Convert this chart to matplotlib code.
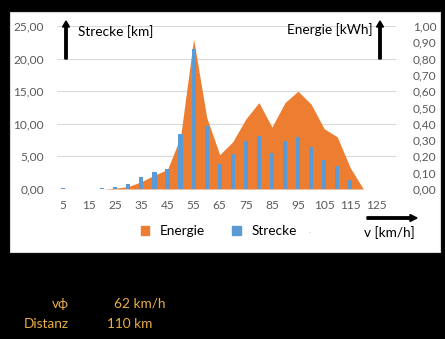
import matplotlib
matplotlib.use('Agg')
import matplotlib.pyplot as plt
from matplotlib.patches import Rectangle, Patch, FancyArrow
import numpy as np

plt.rcParams['font.family'] = ['Lato', 'DejaVu Sans']

# Geschwindigkeitsklassen in km/h
speeds = [5, 10, 15, 20, 25, 30, 35, 40, 45, 50, 55, 60, 65,
          70, 75, 80, 85, 90, 95, 100, 105, 110, 115, 120, 125, 130]
# gefahrene Strecke je Klasse [km]
strecke = [0.1, 0, 0, 0.1, 0.3, 0.8, 1.8, 2.6, 3.1, 8.4, 21.4, 9.7, 3.9,
           5.3, 7.3, 8.2, 5.5, 7.3, 7.9, 6.4, 4.4, 3.6, 1.4, 0, 0, 0]
# Energieverbrauch je Klasse [kWh]
energie = [0, 0, 0, 0, 0.005, 0.015, 0.045, 0.085, 0.12, 0.32, 0.92, 0.44, 0.21,
           0.29, 0.43, 0.53, 0.38, 0.53, 0.60, 0.52, 0.37, 0.32, 0.13, 0, 0, 0]
left_ticks = [0, 5, 10, 15, 20, 25]
right_ticks = [0, 0.1, 0.2, 0.3, 0.4, 0.5, 0.6, 0.7, 0.8, 0.9, 1.0]

orange = '#ED7D31'
blue = '#5B9BD5'
grey = '#595959'
gold = '#E9AE45'

W, H = 445, 339
fig = plt.figure(figsize=(W / 100, H / 100), dpi=100, facecolor='black')

# weisser Diagrammbereich
fig.patches.append(Rectangle((10 / W, 1 - 252 / H), 430 / W, 240 / H,
                             transform=fig.transFigure, facecolor='white',
                             edgecolor='#D9D9D9', lw=0.8, zorder=-5))

ax = fig.add_axes([56.5 / W, 1 - 189 / H, 339.5 / W, 163 / H])
ax2 = ax.twinx()
ax.set_zorder(1)
ax2.set_zorder(0)
ax.set_facecolor('none')
ax2.set_facecolor('none')

x = np.arange(len(speeds))
ax.set_xlim(-0.5, len(speeds) - 0.5)
ax.set_ylim(0, 25)
ax2.set_ylim(0, 1)

# Gitterlinien der linken Achse, von der Energieflaeche verdeckt
for v in left_ticks:
    ax2.axhline(v / left_ticks[-1], color='#D9D9D9', lw=0.8, zorder=0)

# Energie als Flaeche (rechte Achse), Strecke als Saeulen (linke Achse)
ax2.fill_between(x, energie, 0, color=orange, lw=0, zorder=1)
ax.bar(x, strecke, width=0.32, color=blue, zorder=3)

ax.set_yticks(left_ticks)
ax.set_yticklabels([f'{v:.2f}'.replace('.', ',') for v in left_ticks])
ax2.set_yticks(right_ticks)
ax2.set_yticklabels([f'{v:.2f}'.replace('.', ',') for v in right_ticks])
ax.set_xticks(x[::2])
ax.set_xticklabels([str(s) for s in speeds[::2]])

for a in (ax, ax2):
    for s in a.spines.values():
        s.set_visible(False)
    a.tick_params(length=0, colors=grey, labelsize=8.6)
ax.tick_params(axis='y', pad=9)
ax2.tick_params(axis='y', pad=12)
ax.tick_params(axis='x', pad=8)

# Achsentitel mit Pfeilen
fig.text(78 / W, 1 - 32 / H, 'Strecke [km]', fontsize=9.8, color='black', va='center')
fig.text(373 / W, 1 - 30 / H, 'Energie [kWh]', fontsize=9.8, color='black',
         va='center', ha='right')
fig.text(415 / W, 1 - 233 / H, 'v [km/h]', fontsize=9.8, color='black',
         va='center', ha='right')
for (x0, y0, x1, y1) in [(66, 59, 66, 21), (380, 59, 380, 21)]:
    fig.patches.append(FancyArrow(
        x0 / W, 1 - y0 / H, 0, (y0 - y1) / H, width=2.4 / W,
        head_width=7 / W, head_length=6 / H, length_includes_head=True,
        color='black', transform=fig.transFigure))
fig.patches.append(FancyArrow(
    367 / W, 1 - 218 / H, 50 / W, 0, width=2.4 / H,
    head_width=7 / H, head_length=7 / W, length_includes_head=True,
    color='black', transform=fig.transFigure))

# Legende
handles = [Patch(color=orange, label='Energie'), Patch(color=blue, label='Strecke')]
fig.legend(handles=handles, loc='center', bbox_to_anchor=(219 / W, 1 - 231 / H),
           ncol=2, frameon=False, fontsize=9.8, handlelength=0.6, handleheight=0.6,
           columnspacing=2.0, handletextpad=0.8)
fig.text(310 / W, 1 - 233 / H, '.', fontsize=6, color='#BFBFBF', ha='center')

# Kennzahlen unter dem Diagramm
fig.text(69 / W, 1 - 304 / H, 'v\u03d5', fontsize=9.8, color=gold, ha='right', va='center')
fig.text(165 / W, 1 - 304 / H, '62 km/h', fontsize=9.8, color=gold, ha='right', va='center')
fig.text(69 / W, 1 - 324 / H, 'Distanz', fontsize=9.8, color=gold, ha='right', va='center')
fig.text(107 / W, 1 - 324 / H, '110 km', fontsize=9.8, color=gold, ha='left', va='center')

fig.savefig('out.png', dpi=100, facecolor='black')
